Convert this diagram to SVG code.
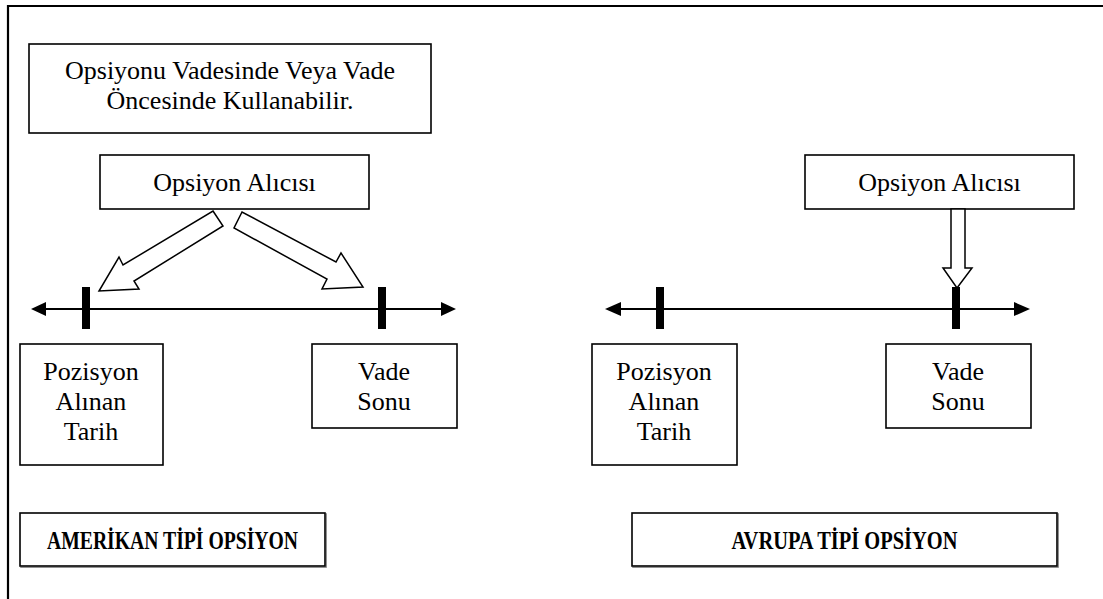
<svg xmlns="http://www.w3.org/2000/svg" width="1103" height="599" viewBox="0 0 1103 599">
  <defs>
    <style>
      .box { fill: #ffffff; stroke: #000000; stroke-width: 1.6; }
      .lbl { font-size: 26px; fill: #000000; text-anchor: middle; }
      .ttl { font-size: 25px; font-weight: bold; fill: #000000; text-anchor: middle; }
      .axis { stroke: #000000; stroke-width: 2.2; fill: none; }
      .tick { fill: #000000; }
      .head { fill: #000000; }
      .block { fill: #ffffff; stroke: #000000; stroke-width: 1.5; stroke-linejoin: miter; }
      .frame { stroke: #000000; stroke-width: 2.2; fill: none; }
    </style>
    <filter id="shadow" x="-5%" y="-20%" width="110%" height="140%">
      <feDropShadow dx="1" dy="1" stdDeviation="0.4" flood-color="#555555" flood-opacity="0.8"/>
    </filter>
  </defs>

  <rect width="1103" height="599" fill="#ffffff"/>

  <!-- page frame: top rule and left rule -->
  <path class="frame" d="M 1103 6 H 8 V 599"/>

  <g font-family="Liberation Serif, Times New Roman, Liberation Sans, sans-serif">
    <!-- American option panel -->
    <g id="note-box">
      <rect class="box" x="29" y="44" width="402" height="89"/>
      <text class="lbl" x="230" y="79">Opsiyonu Vadesinde Veya Vade</text>
      <text class="lbl" x="230" y="109">Öncesinde Kullanabilir.</text>
    </g>

    <g id="buyer-am">
      <rect class="box" x="100" y="155" width="269" height="54"/>
      <text class="lbl" x="234.5" y="191">Opsiyon Alıcısı</text>
    </g>

    <g id="start-am">
      <rect class="box" x="20" y="344" width="143" height="121"/>
      <text class="lbl" x="91" y="380">Pozisyon</text>
      <text class="lbl" x="91" y="410">Alınan</text>
      <text class="lbl" x="91" y="440">Tarih</text>
    </g>

    <g id="end-am">
      <rect class="box" x="312" y="344" width="145" height="84"/>
      <text class="lbl" x="384" y="380">Vade</text>
      <text class="lbl" x="384" y="410">Sonu</text>
    </g>

    <g id="title-am">
      <rect class="box" x="20" y="513" width="305" height="53" filter="url(#shadow)"/>
      <text class="ttl" x="172.5" y="549" textLength="251" lengthAdjust="spacingAndGlyphs">AMERİKAN TİPİ OPSİYON</text>
    </g>

    <!-- European option panel -->
    <g id="buyer-eu">
      <rect class="box" x="805" y="155" width="269" height="54"/>
      <text class="lbl" x="939.5" y="191">Opsiyon Alıcısı</text>
    </g>

    <g id="start-eu">
      <rect class="box" x="592" y="344" width="145" height="121"/>
      <text class="lbl" x="664" y="380">Pozisyon</text>
      <text class="lbl" x="664" y="410">Alınan</text>
      <text class="lbl" x="664" y="440">Tarih</text>
    </g>

    <g id="end-eu">
      <rect class="box" x="886" y="344" width="145" height="84"/>
      <text class="lbl" x="958" y="380">Vade</text>
      <text class="lbl" x="958" y="410">Sonu</text>
    </g>

    <g id="title-eu">
      <rect class="box" x="632" y="513" width="425" height="53" filter="url(#shadow)"/>
      <text class="ttl" x="844.5" y="549" textLength="226" lengthAdjust="spacingAndGlyphs">AVRUPA TİPİ OPSİYON</text>
    </g>
  </g>

  <!-- timelines, ticks and block arrows -->
  <g id="connectors">
    <!-- American timeline -->
    <line class="axis" x1="44" y1="309" x2="443" y2="309"/>
    <polygon class="head" points="31,309 46,302 46,316"/>
    <polygon class="head" points="456,309 441,302 441,316"/>
    <rect class="tick" x="82" y="287" width="8" height="42"/>
    <rect class="tick" x="378" y="287" width="8" height="42"/>

    <!-- buyer may exercise at start or at expiry -->
    <polygon class="block" points="213,211 223,226 134,281 139,289 99,291 119,257 123,265"/>
    <polygon class="block" points="242,212 234,228 327,279 322,289 363,287 341,253 336,262"/>

    <!-- European timeline -->
    <line class="axis" x1="618" y1="309" x2="1017" y2="309"/>
    <polygon class="head" points="605,309 621,302 621,316"/>
    <polygon class="head" points="1030,309 1014,302 1014,316"/>
    <rect class="tick" x="656" y="287" width="8" height="42"/>
    <rect class="tick" x="952" y="287" width="8" height="42"/>

    <!-- buyer may exercise only at expiry -->
    <polygon class="block" points="951,209 965,209 965,268 972,268 957,288 943,268 951,268"/>
  </g>
</svg>
